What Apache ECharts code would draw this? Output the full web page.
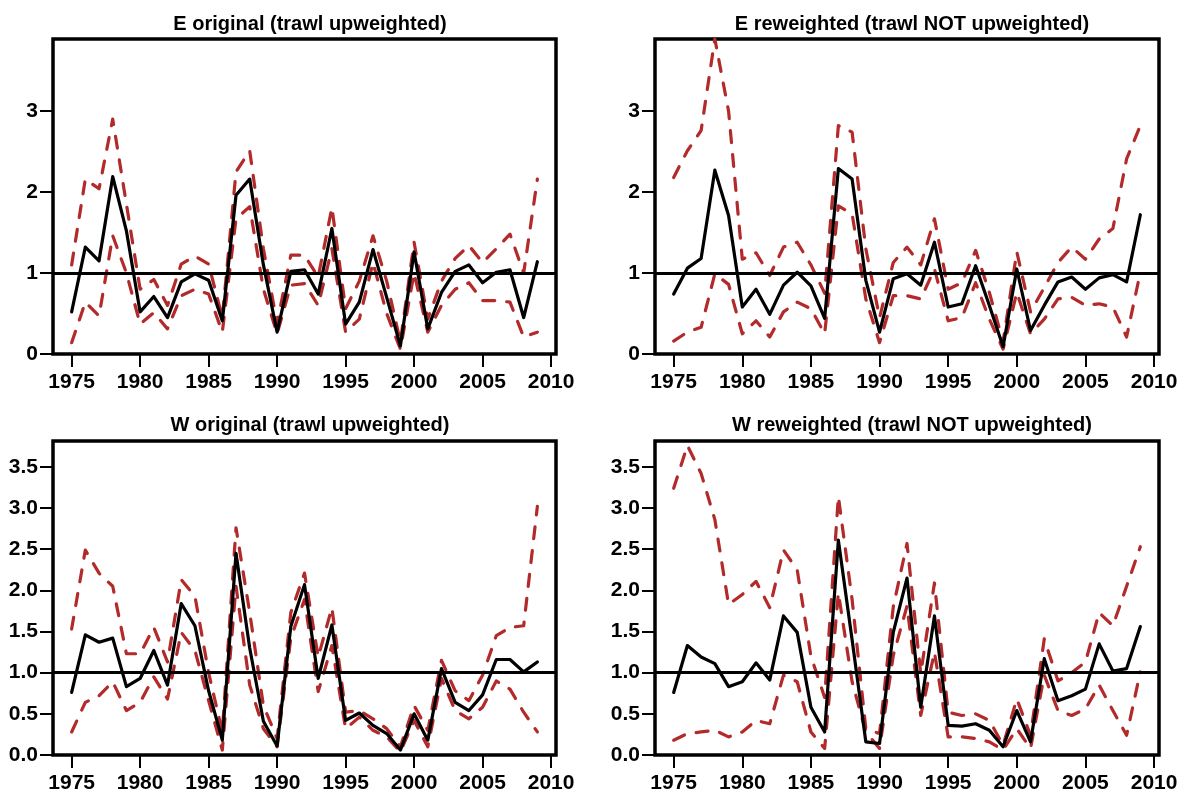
<!DOCTYPE html>
<html>
<head>
<meta charset="utf-8">
<script src="https://cdn.jsdelivr.net/npm/echarts@6/dist/echarts.min.js"></script>
<style>
html,body{margin:0;padding:0;background:#fff;}
#chart{width:1187px;height:798px;}
</style>
</head>
<body>
<div id="chart"></div>
<script>
const years = [1975,1976,1977,1978,1979,1980,1981,1982,1983,1984,1985,1986,1987,1988,1989,1990,1991,1992,1993,1994,1995,1996,1997,1998,1999,2000,2001,2002,2003,2004,2005,2006,2007,2008,2009];
const xTicks = [1975,1980,1985,1990,1995,2000,2005,2010];
const yTicksTop = [0,1,2,3];
const yTicksBottom = [0,0.5,1,1.5,2,2.5,3,3.5];
const refLevel = 1;
const titles = ["E original (trawl upweighted)","E reweighted (trawl NOT upweighted)","W original (trawl upweighted)","W reweighted (trawl NOT upweighted)"];

const eOrigEst = [0.52,1.32,1.15,2.19,1.52,0.52,0.71,0.45,0.89,0.99,0.91,0.41,1.96,2.16,1.10,0.27,1.02,1.04,0.74,1.55,0.37,0.64,1.29,0.70,0.10,1.26,0.31,0.76,1.02,1.10,0.88,1.01,1.04,0.45,1.14];
const eOrigUp  = [1.10,2.16,2.04,2.90,1.85,0.80,0.92,0.60,1.11,1.21,1.11,0.45,2.25,2.51,1.30,0.38,1.22,1.22,0.95,1.81,0.56,0.90,1.46,0.90,0.15,1.38,0.43,0.90,1.18,1.34,1.13,1.30,1.48,1.00,2.16];
const eOrigLo  = [0.14,0.64,0.47,1.46,1.00,0.37,0.51,0.31,0.72,0.80,0.74,0.27,1.67,1.82,0.80,0.25,0.85,0.87,0.60,1.30,0.27,0.43,1.13,0.50,0.06,1.00,0.27,0.60,0.80,0.88,0.66,0.66,0.64,0.21,0.27];

const eRewEst = [0.74,1.06,1.18,2.27,1.71,0.58,0.80,0.49,0.85,1.01,0.84,0.44,2.29,2.16,0.91,0.27,0.93,0.99,0.85,1.38,0.58,0.62,1.09,0.60,0.09,1.05,0.29,0.60,0.89,0.95,0.80,0.94,0.98,0.89,1.72];
const eRewUp  = [2.18,2.51,2.76,3.89,3.00,1.17,1.25,0.97,1.32,1.38,1.10,0.75,2.82,2.74,1.30,0.45,1.13,1.32,1.10,1.67,0.80,0.88,1.28,0.76,0.15,1.26,0.52,0.82,1.13,1.32,1.17,1.42,1.55,2.41,2.82];
const eRewLo  = [0.16,0.27,0.33,0.99,0.86,0.25,0.41,0.21,0.52,0.64,0.56,0.25,1.83,1.73,0.68,0.14,0.72,0.72,0.68,1.05,0.41,0.45,0.88,0.43,0.06,0.76,0.25,0.43,0.68,0.70,0.60,0.62,0.58,0.21,1.01];

const wOrigEst = [0.76,1.46,1.37,1.42,0.83,0.93,1.27,0.85,1.84,1.57,0.78,0.18,2.45,1.30,0.41,0.11,1.56,2.07,0.93,1.58,0.42,0.51,0.36,0.26,0.06,0.50,0.18,1.05,0.64,0.54,0.73,1.16,1.16,1.01,1.13];
const wOrigUp  = [1.53,2.49,2.21,2.05,1.23,1.23,1.55,1.13,2.13,1.93,1.00,0.28,2.76,1.73,0.60,0.20,1.73,2.21,1.19,1.79,0.52,0.54,0.44,0.32,0.10,0.60,0.30,1.15,0.78,0.66,0.97,1.45,1.55,1.57,3.02];
const wOrigLo  = [0.28,0.64,0.72,0.89,0.54,0.64,0.95,0.68,1.49,1.27,0.66,0.06,2.05,0.85,0.32,0.10,1.42,1.89,0.77,1.33,0.32,0.46,0.30,0.22,0.04,0.42,0.10,0.93,0.54,0.44,0.58,0.90,0.80,0.52,0.28];

const wRewEst = [0.76,1.33,1.19,1.11,0.83,0.89,1.12,0.91,1.69,1.49,0.58,0.28,2.61,1.40,0.16,0.14,1.49,2.15,0.58,1.69,0.36,0.35,0.38,0.30,0.10,0.54,0.16,1.17,0.66,0.72,0.80,1.35,1.02,1.05,1.56];
const wRewUp  = [3.24,3.76,3.42,2.86,1.83,1.95,2.11,1.79,2.49,2.25,1.20,0.70,3.14,1.89,0.32,0.26,1.80,2.57,0.99,2.09,0.52,0.48,0.50,0.42,0.12,0.68,0.24,1.41,0.90,1.00,1.13,1.73,1.57,2.05,2.53];
const wRewLo  = [0.18,0.26,0.28,0.30,0.22,0.28,0.42,0.38,0.97,0.89,0.28,0.08,1.97,0.89,0.28,0.08,1.21,1.81,0.48,1.25,0.22,0.22,0.20,0.16,0.06,0.32,0.08,0.97,0.54,0.48,0.56,0.85,0.54,0.24,1.01];

const panels = [
  {est:eOrigEst, up:eOrigUp, lo:eOrigLo, yTicks:yTicksTop, ymax:3.89, dec:0},
  {est:eRewEst, up:eRewUp, lo:eRewLo, yTicks:yTicksTop, ymax:3.89, dec:0},
  {est:wOrigEst, up:wOrigUp, lo:wOrigLo, yTicks:yTicksBottom, ymax:3.815, dec:1},
  {est:wRewEst, up:wRewUp, lo:wRewLo, yTicks:yTicksBottom, ymax:3.815, dec:1}
];

const gridPos = [
  {left:53, top:39, width:503, height:315},
  {left:655, top:39, width:504, height:315},
  {left:53, top:441, width:503, height:314},
  {left:655, top:441, width:504, height:314}
];
const titlePos = [{x:305,y:9},{x:907,y:9},{x:305,y:410},{x:907,y:410}];

const FONT = '"Liberation Sans", Arial, sans-serif';
const RED = '#B22A2A';

const option = {
  animation:false,
  backgroundColor:'#fff',
  title: titles.map((t,i)=>({
    text:t, left:titlePos[i].x, top:titlePos[i].y, textAlign:'center',
    textStyle:{fontFamily:FONT, fontWeight:'bold', fontSize:20, color:'#000'}
  })),
  grid: gridPos.map(g=>({left:g.left, top:g.top, width:g.width, height:g.height, show:true, borderColor:'#000', borderWidth:3.5, backgroundColor:'transparent'})),
  xAxis: gridPos.map((g,i)=>({
    type:'value', gridIndex:i, min:1973.64, max:2010.36,
    axisLine:{show:false},
    splitLine:{show:false},
    axisTick:{show:true, length:13, lineStyle:{color:'#000', width:2}, customValues:xTicks},
    axisLabel:{show:true, margin:18, color:'#000', fontFamily:FONT, fontWeight:'bold', fontSize:21, customValues:xTicks, formatter:v=>String(v)}
  })),
  yAxis: panels.map((p,i)=>({
    type:'value', gridIndex:i, min:0, max:p.ymax,
    axisLine:{show:false},
    splitLine:{show:false},
    axisTick:{show:true, length:13, lineStyle:{color:'#000', width:2}, customValues:p.yTicks},
    axisLabel:{show:true, margin:15, color:'#000', fontFamily:FONT, fontWeight:'bold', fontSize:21, customValues:p.yTicks, formatter:v=>Number(v).toFixed(p.dec)}
  })),
  series: []
};

panels.forEach((p,i)=>{
  const mk = arr => years.map((y,k)=>[y, arr[k]]);
  option.series.push({
    type:'line', xAxisIndex:i, yAxisIndex:i, data:mk(p.up), symbol:'none', clip:true,
    lineStyle:{color:RED, width:3.2, type:[12,12], cap:'round', join:'round'}, z:3
  });
  option.series.push({
    type:'line', xAxisIndex:i, yAxisIndex:i, data:mk(p.lo), symbol:'none', clip:true,
    lineStyle:{color:RED, width:3.2, type:[12,12], cap:'round', join:'round'}, z:3
  });
  option.series.push({
    type:'line', xAxisIndex:i, yAxisIndex:i, data:mk(p.est), symbol:'none', clip:true,
    lineStyle:{color:'#000', width:3.2, cap:'round', join:'round'}, z:4,
    markLine:{silent:true, symbol:'none', label:{show:false},
      lineStyle:{color:'#000', width:3.2, type:'solid'},
      data:[{yAxis:refLevel}]}
  });
});

const chart = echarts.init(document.getElementById('chart'), null, {renderer:'canvas'});
chart.setOption(option);
</script>
</body>
</html>
